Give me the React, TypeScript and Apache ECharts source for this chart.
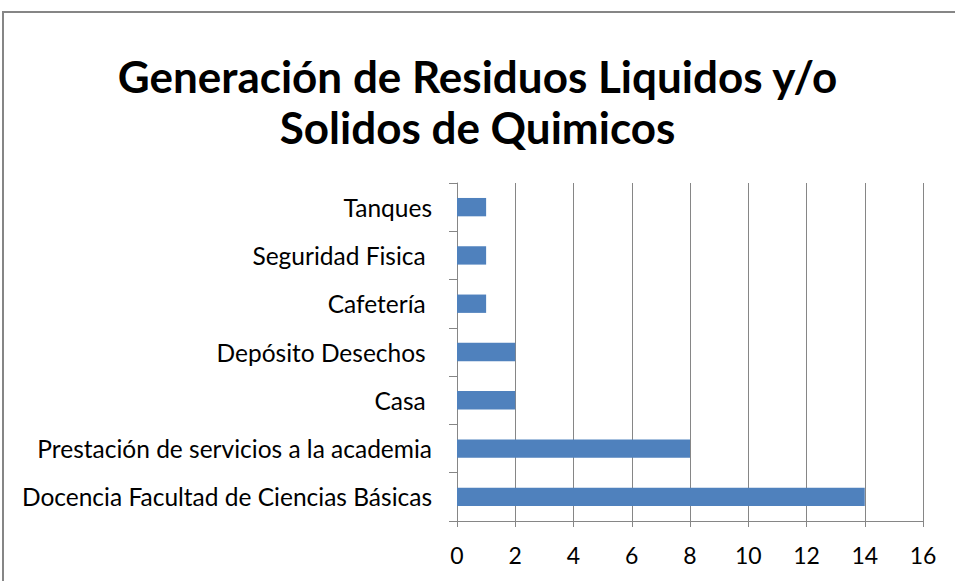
import React, { useEffect, useRef } from "react";
import * as echarts from "echarts";

const categories = [
  "Docencia Facultad de Ciencias Básicas",
  "Prestación de servicios a la academia",
  "Casa\u00a0",
  "Depósito Desechos\u00a0",
  "Cafetería\u00a0",
  "Seguridad Fisica\u00a0",
  "Tanques",
];
const values = [14, 8, 2, 2, 1, 1, 1];
const titleLines = ["Generación de Residuos Liquidos y/o", "Solidos de Quimicos"];

export default function App() {
  const ref = useRef<HTMLDivElement>(null);
  useEffect(() => {
    if (!ref.current) return;
    const chart = echarts.init(ref.current, undefined, { renderer: "svg" });
    const font = "Lato, 'Open Sans', sans-serif";
    const gray = "#868686";
    chart.setOption({
      animation: false,
      backgroundColor: "#ffffff",
      title: {
        text: titleLines.join("\n"),
        left: "center",
        top: 45,
        textStyle: {
          fontFamily: font,
          fontWeight: "bold",
          fontSize: 44,
          lineHeight: 51,
          color: "#000000",
        },
      },
      graphic: [
        {
          type: "rect",
          shape: { x: 3, y: 12, width: 970, height: 600 },
          style: { fill: "none", stroke: gray, lineWidth: 2 },
          silent: true,
          z: 100,
        },
      ],
      grid: { left: 457, right: 32, top: 183, bottom: 60, containLabel: false },
      xAxis: {
        type: "value",
        min: 0,
        max: 16,
        interval: 2,
        axisLine: { show: true, lineStyle: { color: gray, width: 1 } },
        axisTick: { show: true, length: 6, lineStyle: { color: gray } },
        splitLine: { show: true, lineStyle: { color: gray, width: 1 } },
        axisLabel: {
          fontFamily: font,
          fontSize: 23,
          color: "#000000",
          margin: 22,
        },
      },
      yAxis: {
        type: "category",
        data: categories,
        axisLine: { show: true, lineStyle: { color: gray, width: 1 } },
        axisTick: { show: true, length: 8, lineStyle: { color: gray } },
        axisLabel: {
          fontFamily: font,
          fontSize: 24.5,
          color: "#000000",
          margin: 25,
        },
      },
      series: [
        {
          type: "bar",
          data: values,
          barWidth: "38%",
          itemStyle: { color: "#4F81BD" },
        },
      ],
    });
    return () => chart.dispose();
  }, []);
  return (
    <div
      ref={ref}
      style={{ position: "absolute", left: 0, top: 0, width: 955, height: 581 }}
    />
  );
}
